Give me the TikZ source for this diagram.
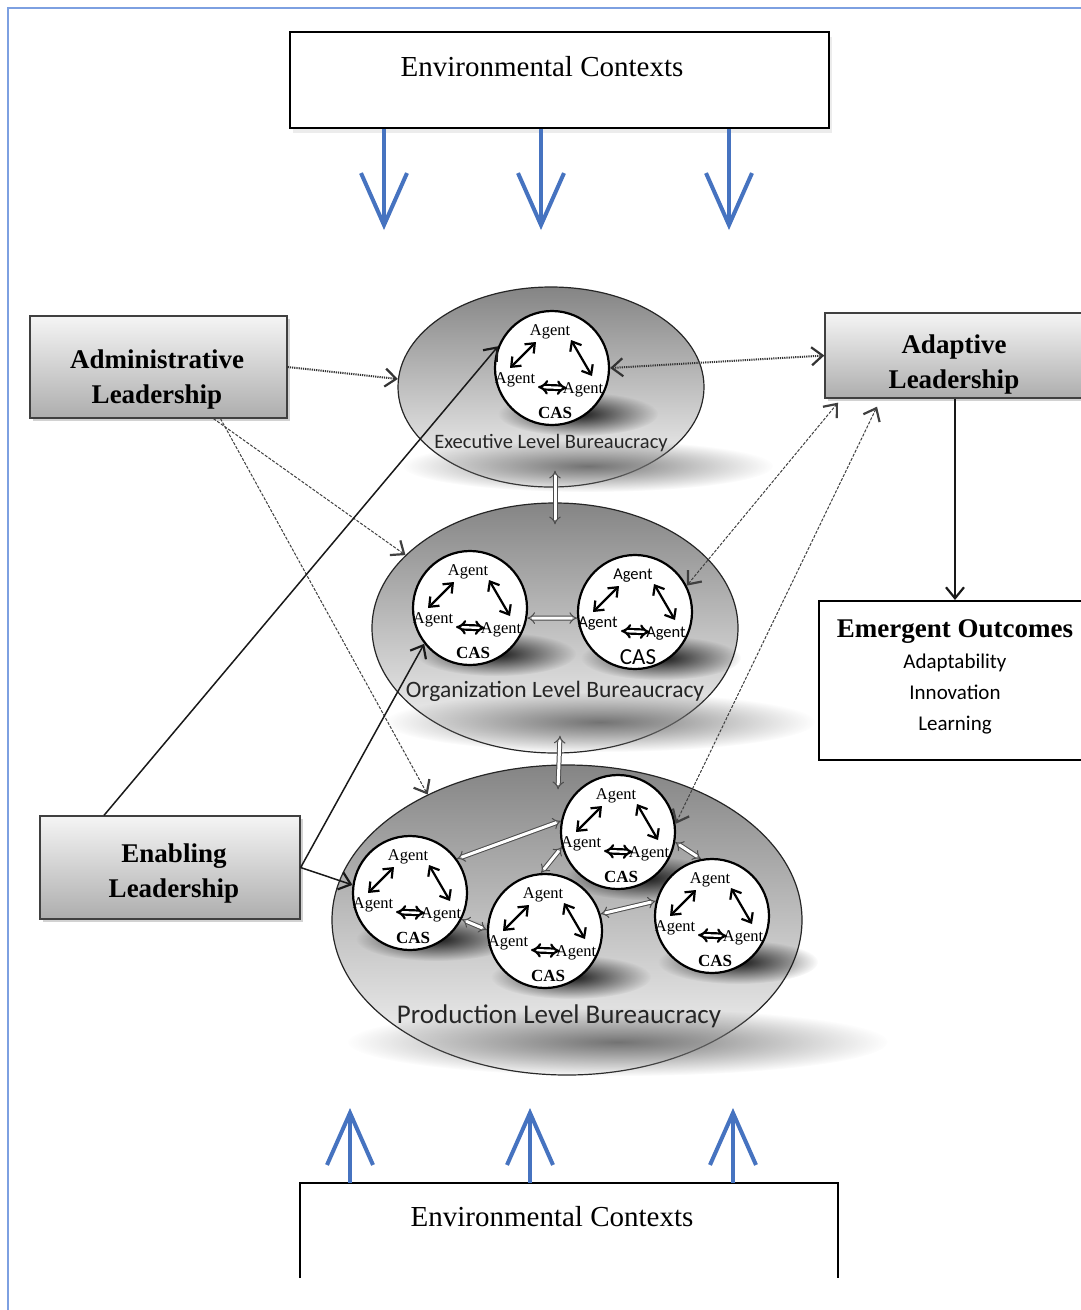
\documentclass[tikz,border=0pt]{standalone}
\usepackage{fontspec}
\setmainfont{Liberation Serif}
\setsansfont{Carlito}
\usetikzlibrary{arrows.meta,shapes.geometric,fadings,shadows}
\tikzfading[name=softfade, inner color=transparent!0, outer color=transparent!100]
\definecolor{envblue}{RGB}{70,115,192}
\definecolor{frameblue}{RGB}{125,160,225}
\tikzset{
  agentlbl/.style={font=\rmfamily\fontsize{16.5}{16.5}\selectfont, inner sep=0pt},
  caslbl/.style={font=\rmfamily\bfseries\fontsize{17}{17}\selectfont, inner sep=0pt},
  casball/.style={circle, draw=black, line width=2.2pt, fill=white, minimum size=114pt, inner sep=0pt},
  casarrow/.style={line width=2.2pt, {Straight Barb[length=8pt,width=13pt]}-{Straight Barb[length=8pt,width=13pt]}},
  casdbl/.style={line width=2.2pt, double=white, double distance=2.4pt, {Implies[length=8pt,width=14pt]}-{Implies[length=8pt,width=14pt]}},
  casshadow/.style={fill=black!90, path fading=softfade},
  pics/cas/.style={code={
    \fill[casshadow] (26,46) ellipse [x radius=80pt, y radius=22pt];
    \node[casball] (-c) at (0,0) {};
    \node[agentlbl] (-t) at (-2,-36) {Agent};
    \node[agentlbl] (-l) at (-37,12) {Agent};
    \node[agentlbl] (-r) at (31,22) {Agent};
    \node[caslbl] (-n) at (3,45) {CAS};
    \draw[casarrow] (-16,-26) -- (-42,0);
    \draw[casarrow] (19,-28) -- (40,8);
    \draw[casdbl] (-14,19) -- (15,20);
  }},
  lead/.style={draw=black!75, line width=1.3pt, top color=black!4, bottom color=black!32, inner sep=0pt,
    drop shadow={opacity=0.35, shadow xshift=3pt, shadow yshift=-3pt}},
  leadtxt/.style={font=\rmfamily\bfseries\fontsize{27}{35}\selectfont, align=center, inner sep=0pt},
  envbox/.style={draw=black, line width=2pt, fill=white, inner sep=0pt},
  envtxt/.style={font=\rmfamily\fontsize{29}{29}\selectfont, inner sep=0pt},
  level/.style={ellipse, draw=black!85, line width=1.2pt, top color=black!48, bottom color=black!2, inner sep=0pt},
  lvlshadow/.style={fill=black!55, path fading=softfade},
  bluearrow/.style={draw=envblue, line width=4pt, -{Straight Barb[length=52pt,width=46pt]}},
  dotconn/.style={draw=black!80, line width=2pt, dash pattern=on 1.2pt off 1pt},
  dashconn/.style={draw=black!75, line width=1pt, dash pattern=on 3pt off 1.5pt},
  solidconn/.style={draw=black!90, line width=1.5pt},
  tipend/.style={-{Straight Barb[length=11pt,width=18pt,line width=2.2pt]}},
  tipboth/.style={{Straight Barb[length=11pt,width=18pt,line width=2.2pt]}-{Straight Barb[length=11pt,width=18pt,line width=2.2pt]}},
  hollow/.style={draw=black!70, line width=1pt, double=white, double distance=3pt, {Implies[length=7pt,width=13pt]}-{Implies[length=7pt,width=13pt]}},
}
\begin{document}
\begin{tikzpicture}[x=1pt,y=-1pt]
\useasboundingbox (0,0) rectangle (1081,1310);
\fill[white] (0,0) rectangle (1081,1310);
\draw[frameblue, line width=1.5pt] (8,1312) -- (8,8) -- (1083,8);

% environmental contexts
\node[envbox, minimum width=539pt, minimum height=96pt,
  drop shadow={opacity=0.15, shadow xshift=3pt, shadow yshift=-5pt}] (envT) at (559.5,80) {};
\node[envtxt] (envTt) at (542,67) {Environmental Contexts};
\node[fill=white, minimum width=538pt, minimum height=95pt, inner sep=0pt] (envB) at (569,1230.5) {};
\draw[line width=2pt] (envB.south west) -- (envB.north west) -- (envB.north east) -- (envB.south east);
\node[envtxt] (envBt) at (552,1217) {Environmental Contexts};

\coordinate (d1) at (384,230);
\coordinate (d2) at (541,230);
\coordinate (d3) at (729,230);
\draw[bluearrow] ([xshift=-175.5pt]envT.south) -- (d1);
\draw[bluearrow] ([xshift=-18.5pt]envT.south) -- (d2);
\draw[bluearrow] ([xshift=169.5pt]envT.south) -- (d3);
\coordinate (u1) at (350,1108);
\coordinate (u2) at (530,1108);
\coordinate (u3) at (733,1108);
\draw[bluearrow] ([xshift=-219pt]envB.north) -- (u1);
\draw[bluearrow] ([xshift=-39pt]envB.north) -- (u2);
\draw[bluearrow] ([xshift=164pt]envB.north) -- (u3);

% levels
\node[level, minimum width=306pt, minimum height=200pt] (exec) at (551,387) {};
\node[level, minimum width=366pt, minimum height=250pt] (org) at (555,628) {};
\node[level, minimum width=470pt, minimum height=310pt] (prod) at (567,920) {};
\fill[lvlshadow] (588,466) ellipse [x radius=185pt, y radius=26pt];
\fill[lvlshadow] (600,722) ellipse [x radius=215pt, y radius=30pt];
\fill[lvlshadow] (618,1042) ellipse [x radius=270pt, y radius=34pt];

% CAS
\pic (ea) at (552,368) {cas};
\pic (oa) at (470,608) {cas};
\pic[agentlbl/.style={font=\sffamily\fontsize{16.5}{16.5}\selectfont, inner sep=0pt},
     caslbl/.style={font=\sffamily\fontsize{23}{23}\selectfont, inner sep=0pt}] (ob) at (635,612) {cas};
\pic (pa) at (410,893) {cas};
\pic (pb) at (618,832) {cas};
\pic (pc) at (545,931) {cas};
\pic (pd) at (712,916) {cas};

\node[font=\sffamily\fontsize{20.5}{20.5}\selectfont, inner sep=0pt, text=black!85] (execT) at (551,443) {Executive Level Bureaucracy};
\node[font=\sffamily\fontsize{23.5}{23.5}\selectfont, inner sep=0pt, text=black!85] (orgT) at (555,691) {Organization Level Bureaucracy};
\node[font=\sffamily\fontsize{27}{27}\selectfont, inner sep=0pt, text=black!85] (prodT) at (559,1016) {Production Level Bureaucracy};

% hollow double arrows
\draw[hollow] ([xshift=4pt,yshift=17pt]exec.south) -- ([yshift=-22pt]org.north);
\draw[hollow] ([xshift=5pt,yshift=18pt]org.south) -- ([xshift=-9pt,yshift=-25pt]prod.north);
\draw[hollow] (oa-c.-10) -- (ob-c.186);
\draw[hollow] (pa-c.36) -- (pb-c.169);
\draw[hollow] (pa-c.-27) -- (pc-c.179);
\draw[hollow] (pc-c.94) -- (pb-c.195);
\draw[hollow] (pc-c.17) -- (pd-c.165);
\draw[hollow] (pb-c.-10) -- (pd-c.101);

% leadership boxes
\node[lead, minimum width=257pt, minimum height=102pt] (admin) at (158.5,367) {};
\node[leadtxt] (adminT) at (157,379) {Administrative\\Leadership};
\node[lead, minimum width=260pt, minimum height=103pt] (enab) at (170,867.5) {};
\node[leadtxt] (enabT) at (174,873) {Enabling\\Leadership};
\node[lead, minimum width=260pt, minimum height=85pt] (adapt) at (955,355.5) {};
\node[leadtxt] (adaptT) at (954,364) {Adaptive\\Leadership};
\node[envbox, minimum width=272pt, minimum height=159pt] (emerg) at (955,680.5) {};
\node[font=\sffamily\fontsize{21}{31}\selectfont, align=center, inner sep=0pt] (emergT) at (955,677)
  {{\rmfamily\bfseries\fontsize{27}{31}\selectfont Emergent Outcomes}\\Adaptability\\Innovation\\Learning};

% connectors
\draw[dotconn, tipend] (admin.east) -- (exec.177);
\draw[dashconn, tipend] ([xshift=55pt]admin.south) -- (org.154);
\draw[dashconn, tipend] ([xshift=62pt]admin.south) -- (prod.138);
\draw[solidconn, tipend] ([xshift=-66pt]enab.north) -- (ea-c.158);
\draw[solidconn, tipend] (enab.east) -- (oa-c.218);
\draw[solidconn, tipend] (enab.east) -- (pa-c.172);
\draw[dotconn, tipboth] (ea-c.east) -- (adapt.west);
\draw[dashconn, tipboth] (ob-c.27) -- ([xshift=-117pt,yshift=-4pt]adapt.south);
\draw[dashconn, tipboth] (pb-c.8) -- ([xshift=-78pt,yshift=-8pt]adapt.south);
\draw[solidconn, line width=1.8pt, tipend] (adapt.south) -- (emerg.north);
\end{tikzpicture}
\end{document}
